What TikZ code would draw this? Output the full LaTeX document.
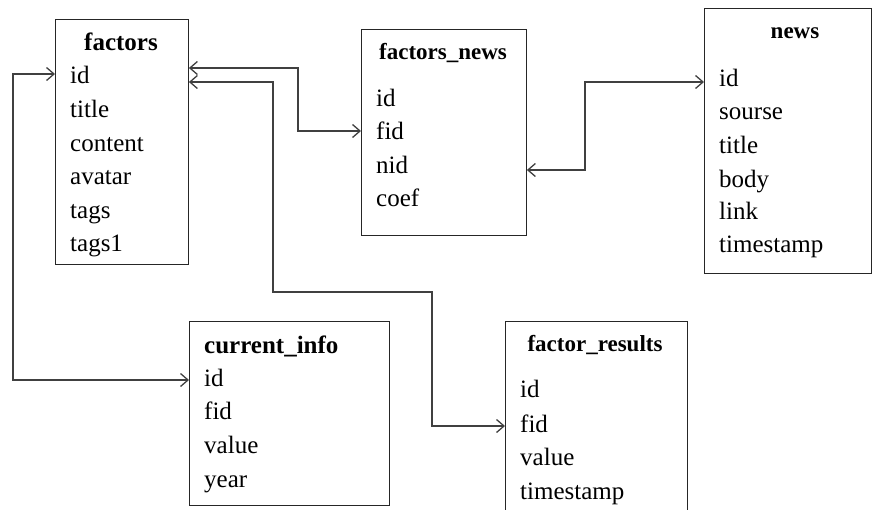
\documentclass[tikz,border=0pt]{standalone}
\usepackage{fontspec}
\setmainfont{Liberation Serif}
\usetikzlibrary{arrows.meta}
\begin{document}
\begin{tikzpicture}[x=1pt,y=-1pt,
  box/.style={draw=black!85,line width=0.9pt,anchor=north west,inner sep=0pt,fill=none},
  fld/.style={anchor=base west,inner sep=0pt,font=\fontsize{25}{28}\selectfont},
  ttlA/.style={inner sep=0pt,font=\fontsize{25}{28}\selectfont\bfseries},
  ttlB/.style={anchor=base,inner sep=0pt,font=\fontsize{23}{27}\selectfont\bfseries},
  conn/.style={draw=black!75,line width=1.3pt,{Straight Barb[length=7.5pt,width=13pt,line width=1.3pt]}-{Straight Barb[length=7.5pt,width=13pt,line width=1.3pt]}}]
\useasboundingbox (0,0) rectangle (872,509);
% boxes
\node[box,minimum width=133pt,minimum height=245pt] (factors) at (55,19) {};
\node[box,minimum width=165pt,minimum height=206pt] (fn) at (361,29) {};
\node[box,minimum width=167pt,minimum height=265pt] (news) at (704,8) {};
\node[box,minimum width=200pt,minimum height=184pt] (ci) at (189,321) {};
\node[box,minimum width=182pt,minimum height=200pt] (fr) at (505,321) {};
% factors
\node[ttlA,anchor=base] (fa_t) at (121,50) {factors};
\node[fld] (fa_id) at (70,83.5) {id};
\node[fld] (fa_title) at (70,117) {title};
\node[fld] (fa_content) at (70,151) {content};
\node[fld] (fa_avatar) at (70,184.5) {avatar};
\node[fld] (fa_tags) at (70,218) {tags};
\node[fld] (fa_tags1) at (70,251.5) {tags1};
% factors_news
\node[ttlB] (fn_t) at (443,59) {factors\_news};
\node[fld] (fn_id) at (376,106.5) {id};
\node[fld] (fn_fid) at (376,139.5) {fid};
\node[fld] (fn_nid) at (376,173.5) {nid};
\node[fld] (fn_coef) at (376,206.5) {coef};
% news
\node[ttlB] (nw_t) at (795,38) {news};
\node[fld] (nw_id) at (719,86.5) {id};
\node[fld] (nw_sourse) at (719,119.5) {sourse};
\node[fld] (nw_title) at (719,153.5) {title};
\node[fld] (nw_body) at (719,187.5) {body};
\node[fld] (nw_link) at (719,219.5) {link};
\node[fld] (nw_ts) at (719,252.5) {timestamp};
% current_info
\node[ttlA,anchor=base west] (ci_t) at (204,353) {current\_info};
\node[fld] (ci_id) at (204,386.5) {id};
\node[fld] (ci_fid) at (204,419.5) {fid};
\node[fld] (ci_value) at (204,453.5) {value};
\node[fld] (ci_year) at (204,487.5) {year};
% factor_results
\node[ttlB] (fr_t) at (595,351) {factor\_results};
\node[fld] (fr_id) at (520,397.5) {id};
\node[fld] (fr_fid) at (520,432.5) {fid};
\node[fld] (fr_value) at (520,465.5) {value};
\node[fld] (fr_ts) at (520,499.5) {timestamp};
% routing coordinates
\coordinate (y68) at (0,68);
\coordinate (y74) at (0,74);
\coordinate (y82) at (0,82);
\coordinate (y131) at (0,131);
\coordinate (y170) at (0,170);
\coordinate (y380) at (0,380);
\coordinate (y426) at (0,426);
\coordinate (b1) at (13,380);
\coordinate (b2) at (298,131);
\coordinate (b3) at (273,292);
\coordinate (b4) at (432,426);
\coordinate (b5) at (585,82);
% connectors
\draw[conn] (factors.west |- y74) -| (b1) -- (ci.west |- y380);
\draw[conn] (factors.east |- y68) -| (b2) -- (fn.west |- y131);
\draw[conn] (factors.east |- y82) -| (b3) -| (b4) -- (fr.west |- y426);
\draw[conn] (fn.east |- y170) -| (b5) -- (news.west |- y82);
\end{tikzpicture}
\end{document}
